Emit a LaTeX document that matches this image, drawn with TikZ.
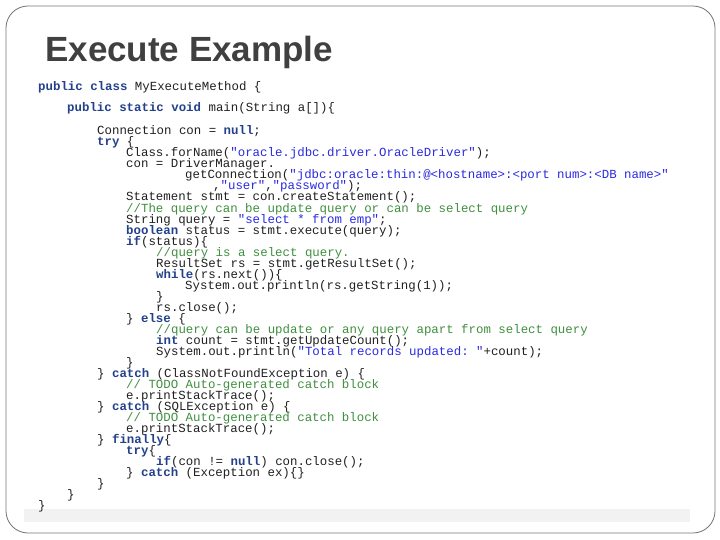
\documentclass[tikz,border=0pt]{standalone}
\usepackage{fontspec}
\setmainfont{Liberation Sans}
\setmonofont{Liberation Mono}
\usepackage{xcolor}
\usetikzlibrary{positioning}
\definecolor{kwcol}{HTML}{23418A}
\definecolor{strcol}{HTML}{2A2AE0}
\definecolor{cmcol}{HTML}{3F8F3F}
\definecolor{txtcol}{HTML}{202020}
\newcommand{\kw}[1]{\textcolor{kwcol}{\bfseries #1}}
\newcommand{\str}[1]{\textcolor{strcol}{#1}}
\newcommand{\cm}[1]{\textcolor{cmcol}{#1}}

\begin{document}
\begin{tikzpicture}[x=1pt, y=-1pt]
		\tikzset{
			code/.style={anchor=base west, inner sep=0pt, text=txtcol, font=\ttfamily\fontsize{12.4}{12}\selectfont},
			title/.style={anchor=base west, inner sep=0pt, text=black!75, font=\bfseries\fontsize{35}{35}\selectfont}
		}
		\useasboundingbox (0,0) rectangle (720,540);
		\draw[black!55, line width=0.8pt, rounded corners=22pt] (6,6) rectangle (715,533);
		\fill[black!5] (24,509) rectangle (690,522);
		\node[title] (ttl) at (45,62) {Execute Example};
		% code lines
		\node[code] (l1) at (38,91) {\kw{public class} MyExecuteMethod \{};
		\node[code] (l2) at (67,112) {\kw{public static void} main(String a[])\{};
		\node[code] (l3) at (97,135) {Connection con = \kw{null};};
		\node[code] (l4) at (97,146) {\kw{try} \{};
		\node[code] (l5) at (126,157) {Class.forName(\str{"oracle.jdbc.driver.OracleDriver"});};
		\node[code] (l6) at (126,168) {con = DriverManager.};
		\node[code] (l7) at (185,179) {getConnection(\str{"jdbc:oracle:thin:@<hostname>:<port num>:<DB name>"}};
		\node[code] (l8) at (213,190) {,\str{"user"},\str{"password"});};
		\node[code] (l9) at (126,201) {Statement stmt = con.createStatement();};
		\node[code] (l10) at (126,212) {\cm{//The query can be update query or can be select query}};
		\node[code] (l11) at (126,223) {String query = \str{"select * from emp"};};
		\node[code] (l12) at (126,234) {\kw{boolean} status = stmt.execute(query);};
		\node[code] (l13) at (126,245) {\kw{if}(status)\{};
		\node[code] (l14) at (156,256) {\cm{//query is a select query.}};
		\node[code] (l15) at (156,267) {ResultSet rs = stmt.getResultSet();};
		\node[code] (l16) at (156,278) {\kw{while}(rs.next())\{};
		\node[code] (l17) at (185,289) {System.out.println(rs.getString(1));};
		\node[code] (l18) at (156,300) {\}};
		\node[code] (l19) at (156,311) {rs.close();};
		\node[code] (l20) at (126,322) {\} \kw{else} \{};
		\node[code] (l21) at (156,333) {\cm{//query can be update or any query apart from select query}};
		\node[code] (l22) at (156,344) {\kw{int} count = stmt.getUpdateCount();};
		\node[code] (l23) at (156,355) {System.out.println(\str{"Total records updated: "}+count);};
		\node[code] (l24) at (126,366) {\}};
		\node[code] (l25) at (97,377) {\} \kw{catch} (ClassNotFoundException e) \{};
		\node[code] (l26) at (126,388) {\cm{// TODO Auto-generated catch block}};
		\node[code] (l27) at (126,399) {e.printStackTrace();};
		\node[code] (l28) at (97,410) {\} \kw{catch} (SQLException e) \{};
		\node[code] (l29) at (126,421) {\cm{// TODO Auto-generated catch block}};
		\node[code] (l30) at (126,432) {e.printStackTrace();};
		\node[code] (l31) at (97,443) {\} \kw{finally}\{};
		\node[code] (l32) at (126,454) {\kw{try}\{};
		\node[code] (l33) at (156,465) {\kw{if}(con != \kw{null}) con.close();};
		\node[code] (l34) at (126,476) {\} \kw{catch} (Exception ex)\{\}};
		\node[code] (l35) at (97,487) {\}};
		\node[code] (l36) at (67,498) {\}};
		\node[code] (l37) at (38,509) {\}};
	\end{tikzpicture}
\end{document}
